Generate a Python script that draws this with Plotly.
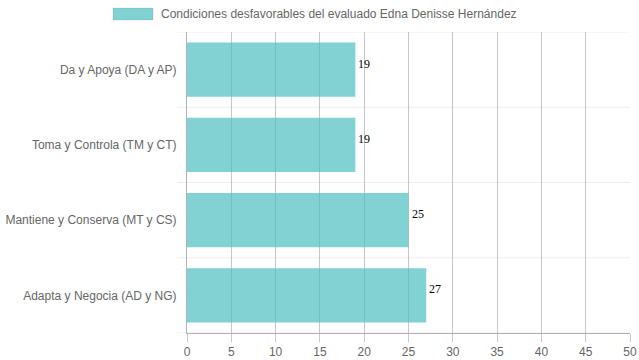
import plotly.graph_objects as go

categories = ["Da y Apoya (DA y AP)", "Toma y Controla (TM y CT)",
              "Mantiene y Conserva (MT y CS)", "Adapta y Negocia (AD y NG)"]
values = [19, 19, 25, 27]
series_name = "Condiciones desfavorables del evaluado Edna Denisse Hernández"
x_ticks = [0, 5, 10, 15, 20, 25, 30, 35, 40, 45, 50]

W, H = 639, 360
L, R, T, B = 187, 9, 32, 27
pw, ph = W - L - R, H - T - B

def px_x(p):
    return (p - L) / pw

def px_y(p):
    return 1 - (p - T) / ph

fill = "rgba(75,192,192,0.7)"
grid = "rgba(0,0,0,0.22)"
font = "Liberation Sans, Arial, sans-serif"

fig = go.Figure()
fig.add_trace(go.Bar(
    y=categories, x=values, orientation="h", name=series_name,
    marker=dict(color=fill, line=dict(width=0)),
    width=0.72, showlegend=False, hoverinfo="x+y",
))

annotations = [dict(text=series_name, xref="paper", yref="paper",
                    x=px_x(159), y=px_y(14), xanchor="left", yanchor="middle",
                    showarrow=False, font=dict(family=font, size=12, color="#666"))]
for c, v in zip(categories, values):
    annotations.append(dict(text=str(v), x=v, y=c, xref="x", yref="y",
                            xanchor="left", yanchor="middle", xshift=1, yshift=6,
                            showarrow=False,
                            font=dict(family="Liberation Serif, Times New Roman, serif",
                                      size=12, color="#000")))

shapes = []
n = len(categories)
for i in range(n + 1):
    yv = i - 0.5
    shapes.append(dict(type="line", xref="paper", yref="y", x0=px_x(177), x1=1,
                       y0=yv, y1=yv, line=dict(color="rgba(0,0,0,0.07)", width=1),
                       layer="below"))
# legend box
shapes.append(dict(type="rect", xref="paper", yref="paper",
                   x0=px_x(113), x1=px_x(153), y0=px_y(20), y1=px_y(8),
                   fillcolor=fill, line=dict(color="rgba(0,0,0,0.08)", width=1)))

fig.update_layout(
    width=W, height=H,
    margin=dict(l=L, r=R, t=T, b=B, autoexpand=False),
    plot_bgcolor="white", paper_bgcolor="white",
    shapes=shapes,
    annotations=annotations,
    xaxis=dict(range=[0, 50], tickvals=x_ticks, showgrid=True, gridcolor=grid, gridwidth=1,
               zeroline=False, showline=True, linecolor="rgba(0,0,0,0.3)", linewidth=1,
               ticks="outside", ticklen=8, tickcolor=grid, automargin=False,
               tickfont=dict(family=font, size=12, color="#666"),
               layer="above traces", fixedrange=True),
    yaxis=dict(categoryorder="array", categoryarray=categories, autorange=False,
               range=[n - 0.5, -0.5], automargin=False,
               showgrid=False, zeroline=False, showline=True,
               linecolor="rgba(0,0,0,0.3)", linewidth=1, ticks="",
               ticklabelstandoff=7, fixedrange=True,
               tickfont=dict(family=font, size=12, color="#666")),
    showlegend=False,
)

fig.write_html("out.html", config={"displayModeBar": False},
               post_script="document.body.style.margin='0';document.body.style.overflow='hidden';")
